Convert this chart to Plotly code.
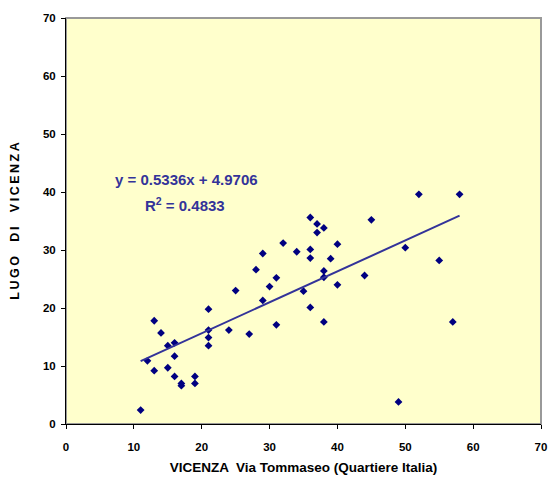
import plotly.graph_objects as go

# Data
x_vicenza = [11, 12, 13, 13, 14, 15, 15, 16, 16, 16, 17, 17, 19, 19, 21, 21, 21, 21,
             24, 25, 27, 28, 29, 29, 30, 31, 31, 32, 34, 35, 36, 36, 36, 36, 37, 37,
             38, 38, 38, 38, 39, 40, 40, 44, 45, 49, 50, 52, 55, 57, 58]
y_lugo = [2.4, 10.9, 17.8, 9.2, 15.7, 13.5, 9.7, 14.0, 11.7, 8.2, 7.0, 6.6, 8.2, 7.0,
          19.8, 16.2, 14.9, 13.5, 16.2, 23.0, 15.5, 26.6, 29.4, 21.3, 23.7, 25.2, 17.1,
          31.2, 29.7, 22.9, 35.6, 30.1, 28.6, 20.1, 34.5, 33.0, 33.8, 26.4, 25.3, 17.6,
          28.5, 31.0, 24.0, 25.6, 35.2, 3.8, 30.4, 39.6, 28.2, 17.6, 39.6]

slope = 0.5336
intercept = 4.9706
r_squared = 0.4833

tick_vals = [0, 10, 20, 30, 40, 50, 60, 70]
tick_text = ["0", "10", "20", "30", "40", "50", "60", "70"]

x_title = "VICENZA  Via Tommaseo (Quartiere Italia)"
y_title = "LUGO  DI  VICENZA"

font_family = "Liberation Sans, Arial, sans-serif"

trend_x = [min(x_vicenza), max(x_vicenza)]
trend_y = [slope * v + intercept for v in trend_x]

fig = go.Figure()
fig.add_trace(go.Scatter(
    x=x_vicenza, y=y_lugo, mode="markers",
    marker=dict(symbol="diamond", size=6, color="#000080", line=dict(width=0)),
    showlegend=False, cliponaxis=False,
))
fig.add_trace(go.Scatter(
    x=trend_x, y=trend_y, mode="lines",
    line=dict(color="#333399", width=2),
    showlegend=False,
))

spaced_y_title = "\u2009".join(list(y_title))

fig.update_layout(
    width=549, height=479,
    margin=dict(l=66, r=8, t=18, b=55, autoexpand=False),
    paper_bgcolor="white",
    plot_bgcolor="#FFFFCC",
    font=dict(family=font_family, color="black"),
    xaxis=dict(
        range=[0, 70], tickvals=tick_vals, ticktext=tick_text,
        showgrid=False, zeroline=False,
        showline=True, linecolor="black", linewidth=1,
        ticks="outside", ticklen=4, tickcolor="black",
        ticklabelstandoff=8,
        tickfont=dict(size=11.5, weight="bold", family=font_family),
        title=dict(text=x_title, font=dict(size=13.5, weight="bold", family=font_family), standoff=10),
    ),
    yaxis=dict(
        range=[0, 70], tickvals=tick_vals, ticktext=tick_text,
        showgrid=False, zeroline=False,
        showline=True, linecolor="black", linewidth=1,
        ticks="outside", ticklen=4, tickcolor="black",
        ticklabelstandoff=3,
        tickfont=dict(size=11.5, weight="bold", family=font_family),
        title=dict(text=spaced_y_title, font=dict(size=12.5, weight="bold", family=font_family), standoff=20),
    ),
    shapes=[dict(type="rect", xref="x domain", yref="y domain", x0=0, x1=1, y0=0, y1=1,
                 line=dict(color="#999999", width=2), layer="below")],
    annotations=[
        dict(x=17.7, y=42.2, xref="x", yref="y", showarrow=False,
             text=f"y = {slope:.4f}x + {intercept:.4f}",
             font=dict(size=15, weight="bold", color="#333399", family=font_family)),
        dict(x=17.6, y=37.8, xref="x", yref="y", showarrow=False,
             text=f"R<sup>2</sup> = {r_squared:.4f}",
             font=dict(size=15, weight="bold", color="#333399", family=font_family)),
    ],
)

fig.write_html("out.html", config={"displayModeBar": False},
               post_script="document.body.style.margin='0px';")
